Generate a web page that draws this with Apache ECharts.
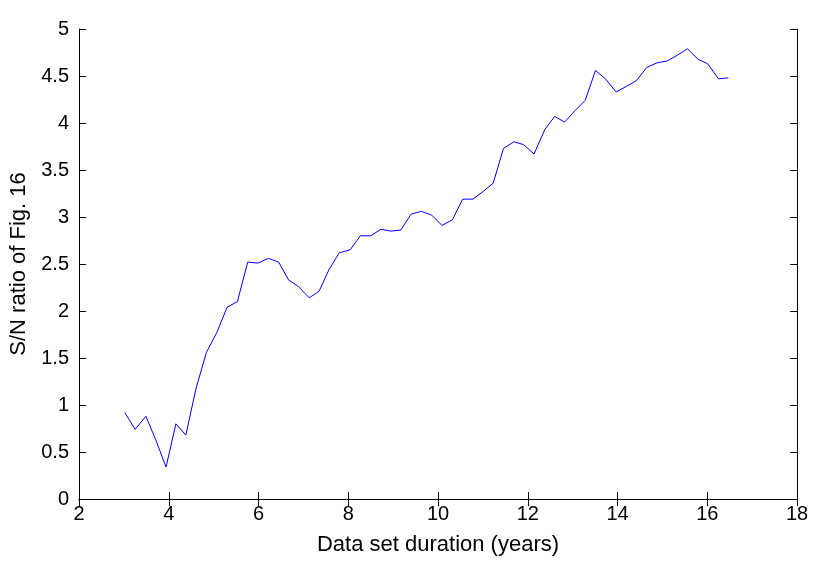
<!DOCTYPE html>
<html>
<head>
<meta charset="utf-8">
<script src="https://cdn.jsdelivr.net/npm/echarts@6/dist/echarts.min.js"></script>
<style>html,body{margin:0;padding:0;background:#fff}#c{width:830px;height:572px}</style>
</head>
<body>
<div id="c"></div>
<script>
const years = [3.02,3.25,3.49,3.71,3.94,4.16,4.38,4.61,4.84,5.07,5.30,5.53,5.76,5.99,6.22,6.45,6.67,6.89,7.13,7.35,7.57,7.80,
  8.04,8.27,8.50,8.73,8.95,9.17,9.40,9.63,9.86,10.09,10.32,10.55,10.78,11.00,11.23,11.46,11.69,11.91,12.14,12.38,12.60,12.82,
  13.05,13.28,13.51,13.73,13.97,14.20,14.42,14.65,14.88,15.11,15.33,15.56,15.79,16.01,16.25,16.47];
const snRatio = [0.92,0.74,0.88,0.63,0.34,0.80,0.68,1.18,1.56,1.77,2.04,2.10,2.52,2.51,2.56,2.52,2.33,2.26,2.14,2.21,2.44,2.62,
  2.65,2.80,2.80,2.87,2.85,2.86,3.03,3.06,3.02,2.91,2.97,3.19,3.19,3.27,3.36,3.73,3.80,3.77,3.67,3.93,4.07,4.01,
  4.13,4.24,4.56,4.47,4.33,4.39,4.45,4.59,4.64,4.66,4.72,4.79,4.68,4.63,4.47,4.48];
const xLabel = 'Data set duration (years)';
const yLabel = 'S/N ratio of Fig. 16';

const font = 'Liberation Sans';
const axisCommon = {
  axisLine: {show: true, lineStyle: {color: '#000', width: 1}},
  axisTick: {show: true, inside: true, length: 7, lineStyle: {color: '#000', width: 1}},
  splitLine: {show: false}
};
const chart = echarts.init(document.getElementById('c'), null, {renderer: 'canvas'});
chart.setOption({
  animation: false,
  backgroundColor: '#fff',
  grid: {left: 79, right: 33, top: 29, bottom: 73, containLabel: false},
  xAxis: [
    Object.assign({type: 'value', position: 'bottom', min: 2, max: 18, interval: 2,
      name: xLabel, nameLocation: 'middle', nameGap: 35,
      nameTextStyle: {fontFamily: font, fontSize: 22, color: '#000'},
      axisLabel: {fontFamily: font, fontSize: 20, color: '#000', margin: 5}}, axisCommon),
    Object.assign({type: 'value', position: 'top', min: 2, max: 18, interval: 2,
      axisLabel: {show: false}}, axisCommon)
  ],
  yAxis: [
    Object.assign({type: 'value', position: 'left', min: 0, max: 5, interval: 0.5,
      name: yLabel, nameLocation: 'middle', nameGap: 42,
      nameTextStyle: {fontFamily: font, fontSize: 22, color: '#000'},
      axisLabel: {fontFamily: font, fontSize: 20, color: '#000', margin: 10}}, axisCommon),
    Object.assign({type: 'value', position: 'right', min: 0, max: 5, interval: 0.5,
      axisLabel: {show: false}}, axisCommon)
  ],
  series: [{
    type: 'line',
    data: years.map((x, i) => [x, snRatio[i]]),
    showSymbol: false,
    lineStyle: {color: '#0000ff', width: 1},
    itemStyle: {color: '#0000ff'}
  }]
});
</script>
</body>
</html>
